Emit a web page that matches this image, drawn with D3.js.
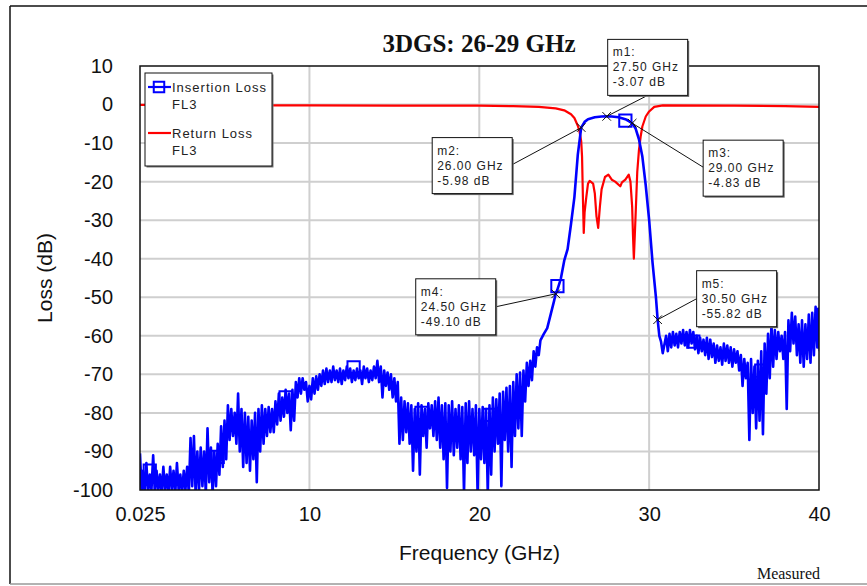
<!DOCTYPE html>
<html>
<head>
<meta charset="utf-8">
<script src="https://cdn.jsdelivr.net/npm/d3@7"></script>
<style>
  body { margin: 0; background: #fff; }
  svg { display: block; font-family: Arial, "Liberation Sans", sans-serif; }
</style>
</head>
<body>
<svg id="chart" width="867" height="586"></svg>
<script>
// ---- data ----
const xTicks = [0.025, 10, 20, 30, 40];
const yTicks = [10, 0, -10, -20, -30, -40, -50, -60, -70, -80, -90, -100];

// noisy stop band below the filter: [GHz, upper dB, lower dB] per 0.2 GHz bin
const ilLowBand = [
  [0.025, -90.5, -101], [0.2, -95, -100], [0.4, -93, -101], [0.6, -96, -100], [0.8, -91, -101],
  [1.0, -95, -100], [1.2, -96, -101], [1.4, -94, -100], [1.6, -96, -101], [1.8, -94, -100],
  [2.0, -95, -101], [2.2, -93, -100], [2.4, -96, -101], [2.6, -95, -100], [2.8, -94, -101],
  [3.0, -86.5, -99], [3.2, -86, -101], [3.4, -90, -100], [3.6, -89, -99], [3.8, -90, -101],
  [4.0, -84, -98], [4.2, -89, -101], [4.4, -90, -99], [4.6, -88, -96], [4.8, -83.5, -94],
  [5.0, -82, -92], [5.2, -78, -87], [5.4, -79, -86], [5.6, -80, -88], [5.8, -75, -90],
  [6.0, -79, -94], [6.2, -80, -93], [6.4, -81, -95], [6.6, -82, -92], [6.8, -80, -98],
  [7.0, -79, -90], [7.2, -78, -88], [7.4, -79, -86], [7.6, -78.5, -85], [7.8, -79, -85],
  [8.0, -77, -83], [8.2, -75, -82], [8.4, -76, -81], [8.6, -74, -80], [8.8, -75, -84.5],
  [9.0, -74, -82], [9.2, -72, -76], [9.4, -71, -75], [9.6, -71, -74], [9.8, -72, -77],
  [10.0, -73, -76.5], [10.2, -71, -75], [10.4, -70.5, -74], [10.6, -70, -73], [10.8, -69, -72.5],
  [11.0, -68.5, -72], [11.2, -69, -72], [11.4, -68, -71.5], [11.6, -69, -72], [11.8, -68.5, -72.5],
  [12.0, -69, -71.5], [12.2, -68, -71], [12.4, -68.5, -72], [12.6, -69, -71.5], [12.8, -68.5, -71],
  [13.0, -69, -72.5], [13.2, -68, -71], [13.4, -68.5, -72], [13.6, -69, -71.5], [13.8, -68, -71],
  [14.0, -66.5, -72], [14.2, -68, -76], [14.4, -69, -73], [14.6, -69.5, -74], [14.8, -70, -76],
  [15.0, -71, -77], [15.2, -72, -88], [15.4, -76, -87], [15.6, -77, -85], [15.8, -77.5, -88],
  [16.0, -78, -95], [16.2, -79, -90], [16.4, -77.5, -96], [16.6, -78, -86], [16.8, -79, -89],
  [17.0, -77.5, -84], [17.2, -78, -86], [17.4, -77, -87], [17.6, -76, -89], [17.8, -78, -92],
  [18.0, -77.5, -99.5], [18.2, -78, -90], [18.4, -77, -91], [18.6, -79, -89], [18.8, -78, -92],
  [19.0, -78.5, -101], [19.2, -77.5, -93], [19.4, -77, -90], [19.6, -79, -91], [19.8, -78, -101],
  [20.0, -79, -92], [20.2, -78.5, -93], [20.4, -79, -101], [20.6, -78, -96], [20.8, -76, -90],
  [21.0, -76.5, -88], [21.2, -75, -99], [21.4, -74.5, -87], [21.6, -73.5, -90], [21.8, -73, -94],
  [22.0, -72, -86], [22.2, -70, -84], [22.4, -69.5, -86], [22.6, -69, -77], [22.8, -67, -73],
  [23.0, -66.5, -71.5], [23.2, -64, -68], [23.4, -63, -65]
];

// pass band, smooth part of the insertion loss trace: [GHz, dB]
const ilPassband = [
  [23.6, -61.2], [23.8, -59.5], [24.0, -58], [24.2, -54.5], [24.4, -51], [24.5, -49.1],
  [24.6, -48], [24.8, -45.2], [25.0, -40.5], [25.2, -37.5], [25.4, -31], [25.6, -24],
  [25.8, -13], [25.9, -9.5], [26.0, -5.98], [26.2, -4.5], [26.4, -3.8], [26.8, -3.3],
  [27.2, -3.1], [27.5, -3.07], [27.8, -3.1], [28.2, -3.3], [28.6, -3.8], [29.0, -4.83],
  [29.2, -6.2], [29.4, -9], [29.6, -13.5], [29.8, -21], [30.0, -30], [30.2, -41],
  [30.4, -50], [30.5, -55.82], [30.6, -60], [30.7, -61.5], [30.8, -64.5]
];

// noisy stop band above the filter: [GHz, upper dB, lower dB]
const ilHighBand = [
  [31.0, -60, -64], [31.2, -59.5, -63], [31.4, -59, -62.5], [31.6, -59.5, -63], [31.8, -59, -62],
  [32.0, -58.5, -62.5], [32.2, -59, -63], [32.4, -58.5, -62], [32.6, -59, -63.5], [32.8, -60, -64.5],
  [33.0, -60.5, -64], [33.2, -61, -65], [33.4, -60.5, -66], [33.6, -61, -65.5], [33.8, -62, -67],
  [34.0, -62.5, -66.5], [34.2, -63, -67.5], [34.4, -62, -66.5], [34.6, -62.5, -67], [34.8, -63, -68],
  [35.0, -63.5, -67], [35.2, -64, -69], [35.4, -65, -73], [35.6, -66, -71], [35.8, -67, -87],
  [36.0, -66, -80], [36.2, -68, -84], [36.4, -66.5, -82], [36.6, -64, -85.5], [36.8, -62, -75],
  [37.0, -59.5, -71], [37.2, -57, -68], [37.4, -58.5, -66], [37.6, -59, -64], [37.8, -60, -66],
  [38.0, -59, -79], [38.2, -56, -64], [38.4, -54, -62], [38.6, -55, -65], [38.8, -57, -67],
  [39.0, -56, -68], [39.2, -57, -66], [39.4, -54.5, -67], [39.6, -54, -65], [39.8, -52.5, -63],
  [39.95, -53, -64]
];

// return loss trace: [GHz, dB]
const returnLoss = [
  [0.025, -0.1], [5, -0.2], [10, -0.2], [15, -0.3], [20, -0.3], [22, -0.4], [23.5, -0.6],
  [24.5, -1.0], [25.0, -1.5], [25.4, -2.5], [25.6, -3.5], [25.8, -5.5], [25.9, -7],
  [26.0, -9.5], [26.05, -13.5], [26.1, -24], [26.15, -33.3], [26.2, -28], [26.3, -24],
  [26.4, -20.5], [26.5, -19.8], [26.7, -20.5], [26.8, -23], [26.9, -29], [27.0, -32],
  [27.1, -26.5], [27.2, -22], [27.4, -18.8], [27.6, -18.2], [27.8, -19.5], [28.0, -20],
  [28.3, -21.2], [28.4, -20.2], [28.6, -19.5], [28.8, -18.2], [28.9, -20], [29.0, -26.5],
  [29.05, -34], [29.1, -40], [29.2, -29], [29.3, -17.5], [29.4, -11.8], [29.5, -8.3],
  [29.6, -5.7], [29.8, -3.1], [30.0, -1.8], [30.3, -0.6], [30.8, -0.2], [35, -0.3],
  [38, -0.4], [40, -0.6]
];

// square symbols plotted on the insertion loss trace
const ilSymbolFreq = [0.6, 4.6, 8.6, 12.6, 16.6, 20.6, 24.6, 28.6, 32.6, 36.6];
const ilSymbolDb = [-95, -91.4, -76, -68.2, -80, -80.5, -47.1, -4.2, -61.5, -69];

// marker readouts
const markerNames = ['m1', 'm2', 'm3', 'm4', 'm5'];
const markerFreq = [27.5, 26.0, 29.0, 24.5, 30.5];
const markerDb = [-3.07, -5.98, -4.83, -49.10, -55.82];

// ---- layout ----
const width = 867, height = 586;
const plot = { left: 140, right: 819, top: 66, bottom: 490 };
// readout box offset from its marker, and where its leader line leaves the box
const boxLayout = [
  { dx: 1, dy: -77, ax: 38, ay: 57 },
  { dx: -149, dy: 10, ax: 80, ay: 27 },
  { dx: 71, dy: 17, ax: 0, ay: 27 },
  { dx: -140, dy: -15, ax: 80, ay: 28 },
  { dx: 39, dy: -49, ax: 0, ay: 28 }
];
const boxW = 80, boxH = 56;

const svg = d3.select('#chart');

const x = d3.scaleLinear().domain([0.025, 40]).range([plot.left, plot.right]);
const y = d3.scaleLinear().domain([-100, 10]).range([plot.bottom, plot.top]);

// outer frame
svg.append('line').attr('x1', 10).attr('x2', 10).attr('y1', 6).attr('y2', 584)
  .attr('stroke', '#111').attr('stroke-width', 1.5);
svg.append('line').attr('x1', 10).attr('x2', width).attr('y1', 6).attr('y2', 6)
  .attr('stroke', '#111').attr('stroke-width', 1.5);
svg.append('line').attr('x1', 10).attr('x2', width).attr('y1', 584).attr('y2', 584)
  .attr('stroke', '#999').attr('stroke-width', 1.5);

svg.append('defs').append('clipPath').attr('id', 'plot-clip')
  .append('rect')
  .attr('x', plot.left).attr('y', plot.top)
  .attr('width', plot.right - plot.left).attr('height', plot.bottom - plot.top);

// grid
const grid = svg.append('g').attr('stroke', '#cfcfcf').attr('stroke-width', 2);
grid.selectAll('.gx').data(xTicks.slice(1, -1)).join('line')
  .attr('x1', (d) => x(d)).attr('x2', (d) => x(d))
  .attr('y1', plot.top).attr('y2', plot.bottom);
grid.selectAll('.gy').data(yTicks.slice(1, -1)).join('line')
  .attr('x1', plot.left).attr('x2', plot.right)
  .attr('y1', (d) => y(d)).attr('y2', (d) => y(d));

// axes (labels only, the frame is drawn as a rect)
const xAxis = svg.append('g')
  .attr('transform', `translate(0,${plot.bottom + 14})`)
  .call(d3.axisBottom(x).tickValues(xTicks).tickSize(0).tickFormat((d) => String(d)));
xAxis.select('.domain').remove();
xAxis.selectAll('text').attr('font-size', 20).attr('fill', '#111')
  .attr('font-family', 'Arial, "Liberation Sans", sans-serif');

const yAxis = svg.append('g')
  .attr('transform', `translate(${plot.left - 24},0)`)
  .call(d3.axisLeft(y).tickValues(yTicks).tickSize(0).tickFormat((d) => String(d)));
yAxis.select('.domain').remove();
yAxis.selectAll('text').attr('font-size', 20).attr('fill', '#111')
  .attr('font-family', 'Arial, "Liberation Sans", sans-serif');

// traces
const line = d3.line().x((d) => x(d[0])).y((d) => y(d[1]));

function expandBand(rows) {
  // each bin gives its upper and lower excursion, drawn as a zigzag
  return rows.flatMap(([f, hi, lo]) => [[f, hi], [f + 0.1, lo]]);
}

const insertionLoss = [...expandBand(ilLowBand), ...ilPassband, ...expandBand(ilHighBand)];

const traces = svg.append('g').attr('clip-path', 'url(#plot-clip)');

traces.append('path')
  .datum(returnLoss)
  .attr('fill', 'none')
  .attr('stroke', '#ff0000')
  .attr('stroke-width', 2.2)
  .attr('stroke-linejoin', 'round')
  .attr('d', line);

traces.append('path')
  .datum(insertionLoss)
  .attr('fill', 'none')
  .attr('stroke', '#0000ff')
  .attr('stroke-width', 2.6)
  .attr('stroke-linejoin', 'round')
  .attr('d', line);

traces.selectAll('.il-symbol')
  .data(ilSymbolFreq.map((f, i) => [f, ilSymbolDb[i]]))
  .join('path')
  .attr('transform', (d) => `translate(${x(d[0])},${y(d[1])})`)
  .attr('d', d3.symbol(d3.symbolSquare, 150))
  .attr('fill', 'none')
  .attr('stroke', '#0000ff')
  .attr('stroke-width', 2);

// plot frame
svg.append('rect')
  .attr('x', plot.left).attr('y', plot.top)
  .attr('width', plot.right - plot.left).attr('height', plot.bottom - plot.top)
  .attr('fill', 'none').attr('stroke', '#111').attr('stroke-width', 1.5);

// title and axis titles
svg.append('text')
  .attr('x', 479).attr('y', 52)
  .attr('text-anchor', 'middle')
  .attr('font-family', '"Liberation Serif", "Times New Roman", serif')
  .attr('font-weight', 'bold').attr('font-size', 25).attr('fill', '#111')
  .text('3DGS: 26-29 GHz');

svg.append('text')
  .attr('x', (plot.left + plot.right) / 2).attr('y', 560)
  .attr('text-anchor', 'middle').attr('font-size', 21).attr('fill', '#111')
  .text('Frequency (GHz)');

svg.append('text')
  .attr('transform', `translate(52,${(plot.top + plot.bottom) / 2}) rotate(-90)`)
  .attr('text-anchor', 'middle').attr('font-size', 21).attr('fill', '#111')
  .text('Loss (dB)');

svg.append('text')
  .attr('x', 820).attr('y', 579)
  .attr('text-anchor', 'end')
  .attr('font-family', '"Liberation Serif", "Times New Roman", serif')
  .attr('font-size', 16).attr('fill', '#111')
  .text('Measured');

// legend
const legend = svg.append('g').attr('transform', 'translate(145,73)');
legend.append('rect').attr('x', 1.5).attr('y', 1.5).attr('width', 127).attr('height', 93).attr('fill', '#777');
legend.append('rect').attr('width', 127).attr('height', 93)
  .attr('fill', '#fff').attr('stroke', '#111').attr('stroke-width', 1);

const legendItems = [
  { label: 'Insertion Loss', color: '#0000ff', symbol: true, y: 14 },
  { label: 'Return Loss', color: '#ff0000', symbol: false, y: 60 }
];
legendItems.forEach((item) => {
  legend.append('line')
    .attr('x1', 3).attr('x2', 26).attr('y1', item.y).attr('y2', item.y)
    .attr('stroke', item.color).attr('stroke-width', 2.2);
  if (item.symbol) {
    legend.append('path')
      .attr('transform', `translate(14,${item.y})`)
      .attr('d', d3.symbol(d3.symbolSquare, 110))
      .attr('fill', 'none').attr('stroke', item.color).attr('stroke-width', 2);
  }
  const t = legend.append('text')
    .attr('font-size', 13).attr('letter-spacing', 1).attr('fill', '#222');
  t.append('tspan').attr('x', 27).attr('y', item.y + 5).text(item.label);
  t.append('tspan').attr('x', 27).attr('y', item.y + 22).text('FL3');
});

// marker readouts
const markers = markerNames.map((name, i) => ({
  name, f: markerFreq[i], db: markerDb[i], layout: boxLayout[i]
}));

const mg = svg.append('g');
markers.forEach((m) => {
  const mx = x(m.f), my = y(m.db);
  const bx = mx + m.layout.dx, by = my + m.layout.dy;

  mg.append('line')
    .attr('x1', bx + m.layout.ax).attr('y1', by + m.layout.ay)
    .attr('x2', mx).attr('y2', my)
    .attr('stroke', '#111').attr('stroke-width', 1);

  mg.append('path')
    .attr('transform', `translate(${mx},${my})`)
    .attr('d', d3.symbol(d3.symbolX, 50))
    .attr('fill', 'none').attr('stroke', '#111').attr('stroke-width', 1);

  mg.append('rect').attr('x', bx + 1.5).attr('y', by + 1.5)
    .attr('width', boxW).attr('height', boxH).attr('fill', '#666');
  mg.append('rect').attr('x', bx).attr('y', by)
    .attr('width', boxW).attr('height', boxH)
    .attr('fill', '#fff').attr('stroke', '#111').attr('stroke-width', 1);

  const lines = [`${m.name}:`, `${m.f.toFixed(2)} GHz`, `${m.db.toFixed(2)} dB`];
  const t = mg.append('text').attr('font-size', 12).attr('letter-spacing', 1).attr('fill', '#222');
  lines.forEach((s, k) => {
    t.append('tspan').attr('x', bx + 5).attr('y', by + 17 + k * 15).text(s);
  });
});
</script>
</body>
</html>
